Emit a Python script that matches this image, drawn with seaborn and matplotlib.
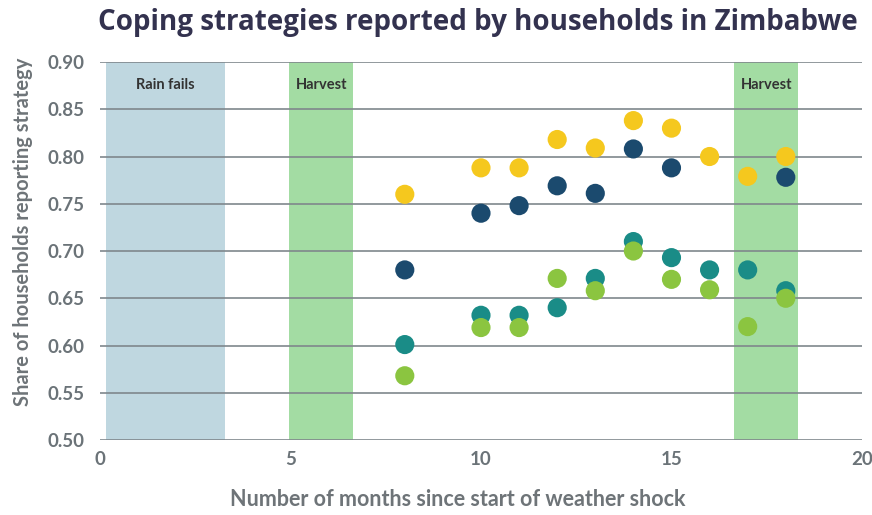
import pandas as pd
import matplotlib.pyplot as plt
import seaborn as sns

# --- data ---
months = [8, 10, 11, 12, 13, 14, 15, 16, 17, 18]
yellow_vals = [0.760, 0.788, 0.788, 0.818, 0.809, 0.838, 0.830, 0.800, 0.779, 0.800]
navy_months = [8, 10, 11, 12, 13, 14, 15, 18]
navy_vals = [0.680, 0.740, 0.748, 0.769, 0.761, 0.808, 0.788, 0.778]
teal_vals = [0.601, 0.632, 0.632, 0.640, 0.671, 0.710, 0.693, 0.680, 0.680, 0.658]
green_vals = [0.568, 0.619, 0.619, 0.671, 0.658, 0.700, 0.670, 0.659, 0.620, 0.650]

series_names = ["s1", "s2", "s3", "s4"]
series_colors = ["#F5C81E", "#1B4A6E", "#1A8C87", "#8BC540"]

span_labels = ["Rain fails", "Harvest", "Harvest"]
span_starts = [0.15, 4.97, 16.65]
span_ends = [3.27, 6.65, 18.33]
span_colors = ["#BFD7E0", "#A3DCA3", "#A3DCA3"]

# long-form table for seaborn
frames = [
    pd.DataFrame({"month": months, "share": yellow_vals, "series": "s1"}),
    pd.DataFrame({"month": navy_months, "share": navy_vals, "series": "s2"}),
    pd.DataFrame({"month": months, "share": teal_vals, "series": "s3"}),
    pd.DataFrame({"month": months, "share": green_vals, "series": "s4"}),
]
df = pd.concat(frames, ignore_index=True)

sns.set_theme(style="white")
plt.rcParams["font.family"] = ["Lato", "DejaVu Sans"]

fig = plt.figure(figsize=(8.72, 5.15), dpi=100)
ax = fig.add_axes([0.1147, 0.1456, 0.8738, 0.734])

# shaded periods
for lab, x0, x1, c in zip(span_labels, span_starts, span_ends, span_colors):
    ax.axvspan(x0, x1, color=c, lw=0, zorder=0)
    ax.text((x0 + x1) / 2, 0.876, lab, ha="center", va="center",
            fontsize=10.5, fontweight="bold", color="#333333", zorder=1)

sns.scatterplot(data=df, x="month", y="share", hue="series",
                hue_order=series_names, palette=series_colors,
                s=190, linewidth=0, legend=False, ax=ax, zorder=3)

ax.set_xlim(0, 20)
ax.set_ylim(0.5, 0.9)
ax.set_xticks([0, 5, 10, 15, 20])
ax.set_yticks([0.50, 0.55, 0.60, 0.65, 0.70, 0.75, 0.80, 0.85, 0.90])
ax.set_yticklabels([f"{v:.2f}" for v in ax.get_yticks()])
ax.yaxis.grid(True, color="#7F878C", lw=1.2, zorder=2)
ax.set_axisbelow(False)
for sp in ax.spines.values():
    sp.set_visible(False)
ax.tick_params(axis="both", length=0, labelsize=13.5, labelcolor="#6B7378")
ax.tick_params(axis="y", pad=11)
ax.tick_params(axis="x", pad=8)
for t in ax.get_xticklabels() + ax.get_yticklabels():
    t.set_fontweight("bold")

ax.set_xlabel("Number of months since start of weather shock", fontsize=15.5,
              fontweight="bold", color="#6E7478")
ax.xaxis.set_label_coords(0.469, -0.13)
ax.set_ylabel("Share of households reporting strategy", fontsize=14.5,
              fontweight="bold", color="#6E7478")
ax.yaxis.set_label_coords(-0.088, 0.55)

fig.text(0.548, 0.957, "Coping strategies reported by households in Zimbabwe",
         ha="center", va="center", fontsize=20, fontweight="bold",
         color="#33324F", family=["Open Sans", "DejaVu Sans"])

plt.savefig("out.png", dpi=100)
